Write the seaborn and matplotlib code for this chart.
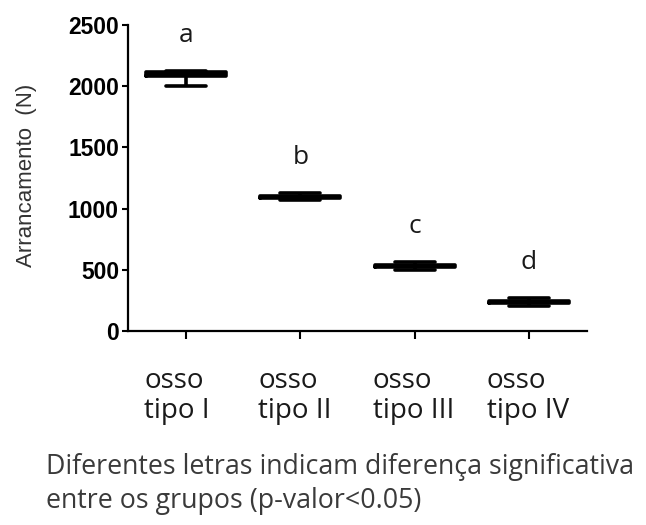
import numpy as np
import pandas as pd
import matplotlib
matplotlib.use("Agg")
import matplotlib.pyplot as plt
import matplotlib.transforms as mtransforms
import seaborn as sns

# ---- data ----
categories = ["osso\ntipo I", "osso\ntipo II", "osso\ntipo III", "osso\ntipo IV"]
grupo_I = [2000, 2080, 2100, 2113, 2125]
grupo_II = [1067, 1090, 1097, 1104, 1127]
grupo_III = [500, 523, 530, 537, 560]
grupo_IV = [207, 230, 237, 244, 267]
letters = ["a", "b", "c", "d"]
y_ticks = [0, 500, 1000, 1500, 2000, 2500]
footnote = "Diferentes letras indicam diferença significativa\nentre os grupos (p-valor<0.05)"

groups = [grupo_I, grupo_II, grupo_III, grupo_IV]
df = pd.DataFrame({
    "grupo": np.repeat(categories, [len(g) for g in groups]),
    "valor": np.concatenate(groups),
})

sns.set_theme(style="ticks")
plt.rcParams["font.family"] = ["Liberation Sans", "DejaVu Sans"]

fig = plt.figure(figsize=(6.46, 5.25), dpi=100)
ax = fig.add_axes([128 / 646, 1 - 331 / 525, (587 - 128) / 646, (331 - 25) / 525])

sns.boxplot(data=df, x="grupo", y="valor", order=categories, ax=ax,
            fill=False, color="black", linecolor="black", linewidth=2.6,
            width=0.7, whis=(0, 100), showfliers=False)

ax.set_xlim(-0.51, 3.51)
ax.set_ylim(0, 2500)
ax.set_yticks(y_ticks)
ax.set_yticklabels([str(t) for t in y_ticks], fontsize=16.5, fontweight="bold",
                   family=["Liberation Sans", "DejaVu Sans"])

for s in ["top", "right"]:
    ax.spines[s].set_visible(False)
for s in ["left", "bottom"]:
    ax.spines[s].set_linewidth(1.6)
    ax.spines[s].set_color("black")

ax.tick_params(axis="y", length=4.5, width=1.5, pad=2, colors="black")
ax.tick_params(axis="x", length=6, width=1.5, pad=20, colors="black")

ax.set_xlabel("")
ax.set_ylabel("Arrancamento  (N)", fontsize=16, color="#333333")
ax.yaxis.set_label_coords(-0.198, 0.51)

offset = mtransforms.ScaledTranslation(-42 / 100, 0, fig.dpi_scale_trans)
for lab in ax.get_xticklabels():
    lab.set_fontfamily(["Open Sans", "DejaVu Sans"])
    lab.set_fontsize(20)
    lab.set_ha("left")
    lab.set_multialignment("left")
    lab.set_linespacing(1.1)
    lab.set_color("#1a1a1a")
    lab.set_transform(lab.get_transform() + offset)

for i, (g, l) in enumerate(zip(groups, letters)):
    ax.text(i, max(g) + 240, l, ha="center", va="baseline", fontsize=19,
            family=["Open Sans", "DejaVu Sans"], color="#1a1a1a")

fig.text(46 / 646, 1 - 508 / 525, footnote, ha="left", va="baseline",
         fontsize=19.3, family=["Open Sans", "DejaVu Sans"], color="#3a3a3a",
         linespacing=1.29)

fig.savefig("out.png", dpi=100, facecolor="white")
